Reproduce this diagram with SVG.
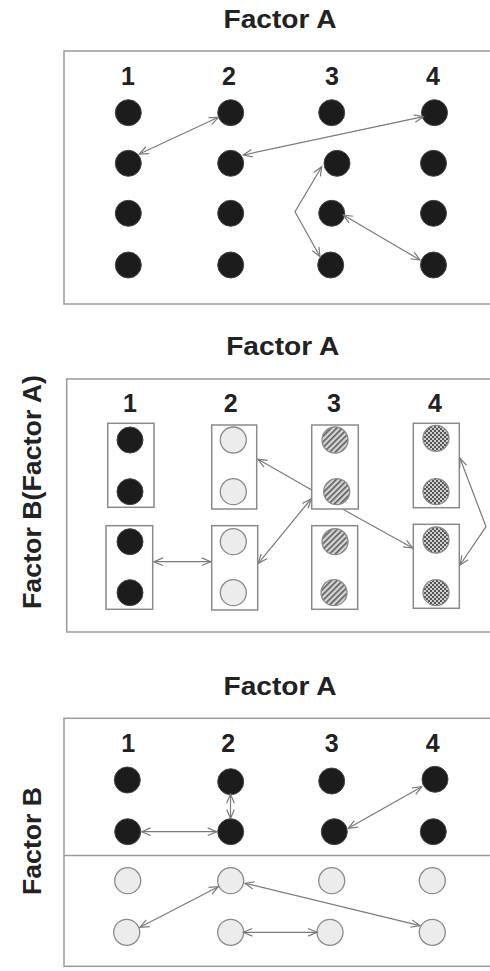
<svg xmlns="http://www.w3.org/2000/svg" width="490" height="971" viewBox="0 0 490 971">
<style>
text{font-family:"Liberation Sans",Arial,sans-serif;font-weight:bold;fill:#222}
.title{font-size:26px;text-anchor:middle}
.num{font-size:25px;text-anchor:middle}
.axis{font-size:26px;text-anchor:middle}
.panel{fill:none;stroke:#9a9a9a;stroke-width:1.5}
.dot{fill:#1c1c1c;stroke:#444;stroke-width:1}
.light{fill:#ececec;stroke:#8a8a8a;stroke-width:1.3}
.hatch{fill:url(#hatch);stroke:#8a8a8a;stroke-width:1.3}
.check{fill:url(#check);stroke:#8a8a8a;stroke-width:1.3}
.box{fill:#fff;stroke:#8a8a8a;stroke-width:1.5}
.conn{fill:none;stroke:#7a7a7a;stroke-width:1.2}
.both{marker-start:url(#arr);marker-end:url(#arr)}
.end{marker-end:url(#arr)}
</style>
<defs>
<marker id="arr" viewBox="-11 -6 13 12" refX="0" refY="0" markerWidth="13" markerHeight="12" markerUnits="userSpaceOnUse" orient="auto-start-reverse">
<path d="M-9,-3.8 L0,0 L-9,3.8" fill="none" stroke="#7a7a7a" stroke-width="1.2"/>
</marker>
<pattern id="hatch" width="4" height="4" patternUnits="userSpaceOnUse" patternTransform="rotate(45)">
<rect width="4" height="4" fill="#d6d6d6"/>
<rect width="1.6" height="4" fill="#5a5a5a"/>
</pattern>
<pattern id="check" width="4" height="4" patternUnits="userSpaceOnUse">
<rect width="4" height="4" fill="#d0d0d0"/>
<rect width="2" height="2" fill="#555"/>
<rect x="2" y="2" width="2" height="2" fill="#555"/>
</pattern>
</defs>

<!-- Panel 1 -->
<g id="panel1">
<text class="title" x="280" y="28" textLength="113" lengthAdjust="spacingAndGlyphs">Factor A</text>
<rect class="panel" x="64" y="51" width="440" height="253"/>
<text class="num" x="128" y="85">1</text>
<text class="num" x="229" y="85">2</text>
<text class="num" x="332" y="85">3</text>
<text class="num" x="433" y="85">4</text>
</g>
<g id="p1-dots">
<circle class="dot" cx="128.3" cy="112.7" r="13"/>
<circle class="dot" cx="230.7" cy="112.7" r="13"/>
<circle class="dot" cx="331.7" cy="112.7" r="13"/>
<circle class="dot" cx="434.5" cy="112.7" r="13"/>
<circle class="dot" cx="128.3" cy="163.3" r="13"/>
<circle class="dot" cx="230.7" cy="163.3" r="13"/>
<circle class="dot" cx="337" cy="163.3" r="13"/>
<circle class="dot" cx="433.5" cy="163.3" r="13"/>
<circle class="dot" cx="128.3" cy="213.3" r="13"/>
<circle class="dot" cx="230.7" cy="213.3" r="13"/>
<circle class="dot" cx="331.7" cy="213.3" r="13"/>
<circle class="dot" cx="433.5" cy="213.3" r="13"/>
<circle class="dot" cx="128.3" cy="265" r="13"/>
<circle class="dot" cx="230.7" cy="265" r="13"/>
<circle class="dot" cx="330.7" cy="265" r="13"/>
<circle class="dot" cx="433.5" cy="265" r="13"/>
</g>

<!-- Panel 2 -->
<g id="panel2">
<text class="title" x="282.7" y="355" textLength="113" lengthAdjust="spacingAndGlyphs">Factor A</text>
<rect class="panel" x="66.7" y="379" width="440" height="253"/>
<text class="num" x="130" y="411.7">1</text>
<text class="num" x="230.7" y="411.7">2</text>
<text class="num" x="334" y="411.7">3</text>
<text class="num" x="435" y="411.7">4</text>
<text class="axis" transform="translate(41,492) rotate(-90)" textLength="234" lengthAdjust="spacingAndGlyphs">Factor B(Factor A)</text>
</g>
<g id="p2-a1-top">
<rect class="box" x="107.7" y="423.3" width="46.3" height="84"/>
<circle class="dot" cx="130" cy="440" r="13"/>
<circle class="dot" cx="130" cy="491.7" r="13"/>
</g>
<g id="p2-a1-bot">
<rect class="box" x="106" y="525.7" width="46.7" height="83.6"/>
<circle class="dot" cx="130" cy="541.7" r="13"/>
<circle class="dot" cx="130" cy="592.7" r="13"/>
</g>
<g id="p2-a2-top">
<rect class="box" x="211.7" y="425" width="45" height="84"/>
<circle class="light" cx="233.3" cy="440" r="13"/>
<circle class="light" cx="233.3" cy="491.7" r="13"/>
</g>
<g id="p2-a2-bot">
<rect class="box" x="211.7" y="525.7" width="46" height="84.3"/>
<circle class="light" cx="233.3" cy="541.7" r="13"/>
<circle class="light" cx="233.3" cy="592.7" r="13"/>
</g>
<g id="p2-a3-top">
<rect class="box" x="311.7" y="425" width="46.6" height="84"/>
<circle class="hatch" cx="335" cy="440" r="13"/>
<circle class="hatch" cx="336.7" cy="491.7" r="13"/>
</g>
<g id="p2-a3-bot">
<rect class="box" x="311.7" y="525.7" width="46" height="83.6"/>
<circle class="hatch" cx="335" cy="541.7" r="13"/>
<circle class="hatch" cx="334" cy="592.7" r="13"/>
</g>
<g id="p2-a4-top">
<rect class="box" x="413.3" y="423.3" width="46" height="84.4"/>
<circle class="check" cx="436" cy="438.3" r="13"/>
<circle class="check" cx="436" cy="491.7" r="13"/>
</g>
<g id="p2-a4-bot">
<rect class="box" x="413.3" y="524.3" width="46" height="84"/>
<circle class="check" cx="436" cy="540" r="13"/>
<circle class="check" cx="436" cy="592.7" r="13"/>
</g>

<!-- Panel 3 -->
<g id="panel3">
<text class="title" x="280" y="695" textLength="113" lengthAdjust="spacingAndGlyphs">Factor A</text>
<rect class="panel" x="64" y="718.3" width="440" height="248"/>
<line class="panel" x1="64" y1="855.5" x2="490" y2="855.5"/>
<text class="num" x="128.3" y="751.7">1</text>
<text class="num" x="228.3" y="751.7">2</text>
<text class="num" x="331.7" y="751.7">3</text>
<text class="num" x="432.7" y="751.7">4</text>
<text class="axis" transform="translate(41,841) rotate(-90)" textLength="108" lengthAdjust="spacingAndGlyphs">Factor B</text>
</g>
<g id="p3-dots">
<circle class="dot" cx="127.3" cy="780" r="13"/>
<circle class="dot" cx="230.7" cy="781.7" r="13"/>
<circle class="dot" cx="331.7" cy="781" r="13"/>
<circle class="dot" cx="435" cy="779.3" r="13"/>
<circle class="dot" cx="127.7" cy="831.7" r="13"/>
<circle class="dot" cx="230.7" cy="831.7" r="13"/>
<circle class="dot" cx="334.3" cy="831.7" r="13"/>
<circle class="dot" cx="433.3" cy="831.7" r="13"/>
<circle class="light" cx="127.7" cy="880.7" r="13"/>
<circle class="light" cx="230.7" cy="880.7" r="13"/>
<circle class="light" cx="331.7" cy="880.7" r="13"/>
<circle class="light" cx="432.3" cy="880.7" r="13"/>
<circle class="light" cx="126.7" cy="932.3" r="13"/>
<circle class="light" cx="230.7" cy="932.3" r="13"/>
<circle class="light" cx="330" cy="932.3" r="13"/>
<circle class="light" cx="432.3" cy="932.3" r="13"/>
</g>

<g id="connectors">
<line class="conn both" x1="218.3" y1="117.3" x2="139.3" y2="154"/>
<line class="conn both" x1="423.3" y1="116.7" x2="243.3" y2="155"/>
<polyline class="conn both" points="321.7,166.7 295,211.7 320,256.7"/>
<line class="conn both" x1="343.3" y1="215" x2="420" y2="260"/>

<line class="conn end" x1="311.7" y1="490" x2="258" y2="459.3"/>
<line class="conn both" x1="258.3" y1="563.3" x2="311" y2="499"/>
<line class="conn end" x1="343.3" y1="509.5" x2="412.7" y2="548"/>
<line class="conn both" x1="154" y1="561.7" x2="210.7" y2="561.7"/>
<polyline class="conn both" points="460,458.3 486,526.7 460,565"/>

<line class="conn both" x1="230.5" y1="794" x2="230.5" y2="818.5"/>
<line class="conn both" x1="141.7" y1="831.7" x2="216.7" y2="831.7"/>
<line class="conn both" x1="348.3" y1="828.3" x2="421.7" y2="786.7"/>
<line class="conn both" x1="140" y1="927.3" x2="218.3" y2="886.7"/>
<line class="conn both" x1="245" y1="883.3" x2="420" y2="925.7"/>
<line class="conn both" x1="243.3" y1="932.3" x2="317" y2="932.3"/>
</g>
</svg>
